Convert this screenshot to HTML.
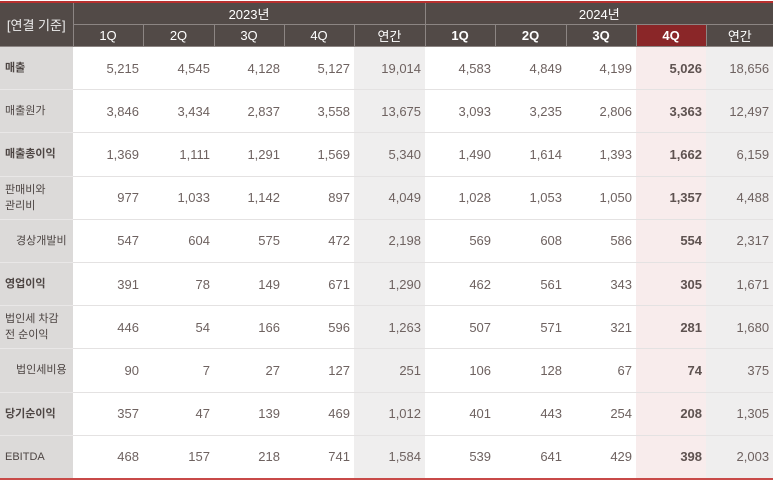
<!DOCTYPE html>
<html><head><meta charset="utf-8"><style>
body{margin:0;width:773px;height:481px;overflow:hidden;background:#fff;font-family:"Liberation Sans","Noto Sans CJK KR",sans-serif;}
table{position:absolute;left:0;top:1px;border-collapse:collapse;table-layout:fixed;width:773px;border-top:2px solid #b8312f;border-bottom:2px solid #c84a48;}
th{background:#524a47;color:#fff;font-weight:normal;font-size:13px;height:21px;padding:0;border-left:1px solid #8c8583;border-bottom:1px solid #8c8583}
th.hl{background:#8a2628}
th.corner{border-left:none;font-size:13px;color:#eee}
td{height:42.2px;padding:0 4px 0 0;text-align:right;font-size:13px;color:#6e6260;border-bottom:1px solid #e4e2e2}
td.lab{background:#dcdad9;text-align:left;padding-left:5px;font-size:11px;color:#4d4543;line-height:16px;border-bottom:1px solid #e9e7e7}
td.b{font-weight:bold}
td.an{background:#efeeee}
td.q4{background:#f8ecec;font-weight:bold;color:#5e5250}
td.ind{padding-left:16px}
tr:last-child td{border-bottom:none}
</style></head><body>
<table>
<colgroup><col style="width:73px"><col style="width:70px"><col style="width:71px"><col style="width:70px"><col style="width:70px"><col style="width:71px"><col style="width:70px"><col style="width:71px"><col style="width:70px"><col style="width:70px"><col style="width:67px"></colgroup>
<thead>
<tr><th class="corner" rowspan="2">[연결 기준]</th><th colspan="5">2023년</th><th colspan="5">2024년</th></tr>
<tr><th>1Q</th><th>2Q</th><th>3Q</th><th>4Q</th><th>연간</th><th style="font-weight:bold">1Q</th><th style="font-weight:bold">2Q</th><th style="font-weight:bold">3Q</th><th class="hl" style="font-weight:bold">4Q</th><th>연간</th></tr>
</thead>
<tbody id="tb"></tbody>
</table>
<script>
const labels=["매출","매출원가","매출총이익","판매비와<br>관리비","경상개발비","영업이익","법인세 차감<br>전 순이익","법인세비용","당기순이익","EBITDA"];
const boldRows=[1,0,1,0,0,1,0,0,1,0];
const indentRows=[0,0,0,0,1,0,0,1,0,0];
const values=[
["5,215","4,545","4,128","5,127","19,014","4,583","4,849","4,199","5,026","18,656"],
["3,846","3,434","2,837","3,558","13,675","3,093","3,235","2,806","3,363","12,497"],
["1,369","1,111","1,291","1,569","5,340","1,490","1,614","1,393","1,662","6,159"],
["977","1,033","1,142","897","4,049","1,028","1,053","1,050","1,357","4,488"],
["547","604","575","472","2,198","569","608","586","554","2,317"],
["391","78","149","671","1,290","462","561","343","305","1,671"],
["446","54","166","596","1,263","507","571","321","281","1,680"],
["90","7","27","127","251","106","128","67","74","375"],
["357","47","139","469","1,012","401","443","254","208","1,305"],
["468","157","218","741","1,584","539","641","429","398","2,003"]];
const tb=document.getElementById('tb');
labels.forEach((l,i)=>{
const tr=document.createElement('tr');


const td=document.createElement('td');
td.className='lab'+(boldRows[i]?' b':'')+(indentRows[i]?' ind':'');
td.innerHTML=l;


tr.appendChild(td);
values[i].forEach((v,j)=>{
const c=document.createElement('td');
c.textContent=v;
if(j==4||j==9)c.className='an';
if(j==8)c.className='q4';


tr.appendChild(c);
});
tb.appendChild(tr);
});
</script>
</body></html>
